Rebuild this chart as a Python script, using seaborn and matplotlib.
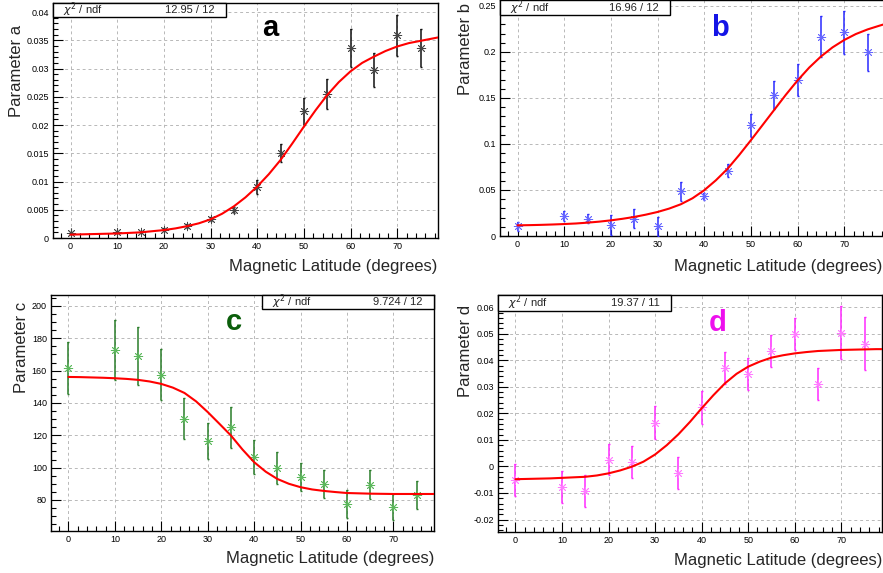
import matplotlib
matplotlib.use("Agg")
import matplotlib.pyplot as plt
import seaborn as sns
import pandas as pd
from matplotlib.patches import Rectangle
from matplotlib.ticker import MultipleLocator, FuncFormatter

# ---------------- data ----------------
lat = [0, 10, 15, 20, 25, 30, 35, 40, 45, 50, 55, 60, 65, 70, 75]

a_val = [0.0009, 0.0010, 0.0010, 0.0015, 0.0021, 0.0034, 0.0050, 0.0090, 0.0151, 0.0224, 0.0255, 0.0336, 0.0298, 0.0359, 0.0336]
a_err = [0.0002, 0.0002, 0.0002, 0.0002, 0.0003, 0.0004, 0.0005, 0.0012, 0.0016, 0.0024, 0.0027, 0.0034, 0.0030, 0.0036, 0.0034]

b_val = [0.0105, 0.0214, 0.0189, 0.0116, 0.0189, 0.0105, 0.0486, 0.0432, 0.0708, 0.1205, 0.1530, 0.1695, 0.2166, 0.2213, 0.1996]
b_err = [0.0050, 0.0055, 0.0050, 0.0110, 0.0105, 0.0100, 0.0105, 0.0040, 0.0070, 0.0125, 0.0155, 0.0170, 0.0225, 0.0230, 0.0200]

c_val = [161.7, 172.9, 168.9, 157.6, 130.3, 116.6, 124.9, 106.5, 99.7, 94.1, 89.9, 77.5, 89.3, 75.5, 83.1]
c_err = [16.0, 18.4, 18.0, 15.5, 12.6, 11.0, 12.6, 10.7, 10.0, 8.8, 8.8, 8.6, 9.0, 8.0, 8.7]

d_val = [-0.0050, -0.0077, -0.0092, 0.0026, 0.0016, 0.0165, -0.0026, 0.0223, 0.0371, 0.0348, 0.0434, 0.0499, 0.0312, 0.0504, 0.0462]
d_err = [0.0060, 0.0061, 0.0060, 0.0060, 0.0060, 0.0061, 0.0060, 0.0062, 0.0061, 0.0061, 0.0060, 0.0060, 0.0060, 0.0100, 0.0100]

fit_lat = [0, 2.5, 5, 7.5, 10, 12.5, 15, 17.5, 20, 22.5, 25, 27.5, 30, 32.5, 35, 37.5, 40,
           42.5, 45, 47.5, 50, 52.5, 55, 57.5, 60, 62.5, 65, 67.5, 70, 72.5, 75, 77.5, 78.75]
a_fit = [0.0006, 0.00065, 0.0007, 0.00075, 0.0008, 0.0009, 0.0010, 0.0012, 0.0014, 0.0017, 0.0021,
         0.0026, 0.0033, 0.0043, 0.0056, 0.0072, 0.0091, 0.0113, 0.0138, 0.0167, 0.0197, 0.0226,
         0.0253, 0.0276, 0.0295, 0.0310, 0.0321, 0.0331, 0.0339, 0.0345, 0.0349, 0.0353, 0.0355]
b_fit = [0.0116, 0.0118, 0.0121, 0.0125, 0.0130, 0.0136, 0.0145, 0.0156, 0.0170, 0.0187, 0.0207,
         0.0232, 0.0261, 0.0298, 0.0345, 0.0410, 0.0497, 0.0605, 0.0730, 0.0880, 0.1040, 0.1205,
         0.1370, 0.1535, 0.1690, 0.1830, 0.1950, 0.2050, 0.2130, 0.2195, 0.2245, 0.2285, 0.2304]
c_fit = [156.1, 156.0, 155.8, 155.6, 155.3, 154.9, 154.3, 153.3, 151.8, 149.5, 146.2, 141.0, 134.4,
         127.2, 119.9, 111.2, 103.4, 97.5, 93.0, 90.0, 87.9, 86.5, 85.6, 84.9, 84.3, 84.1, 83.9,
         83.8, 83.7, 83.7, 83.7, 83.7, 83.7]
d_fit = [-0.0048, -0.0047, -0.0046, -0.0045, -0.0043, -0.0041, -0.0039, -0.0034, -0.0026, -0.0015,
         -0.0001, 0.0018, 0.0045, 0.0080, 0.0121, 0.0168, 0.0219, 0.0268, 0.0313, 0.0349, 0.0376,
         0.0395, 0.0410, 0.0419, 0.0426, 0.0431, 0.0435, 0.0437, 0.0439, 0.0440, 0.0441, 0.0442, 0.0442]

chi2_text = ["12.95 / 12", "16.96 / 12", "9.724 / 12", "19.37 / 11"]
panel_letters = ["a", "b", "c", "d"]
y_titles = ["Parameter a", "Parameter b", "Parameter c", "Parameter d"]
x_title = "Magnetic Latitude (degrees)"

# ---------------- style ----------------
sns.set_style("white")
plt.rcParams["font.family"] = ["Liberation Sans", "DejaVu Sans"]

W, H = 883, 573
fig = plt.figure(figsize=(W / 100, H / 100), dpi=100)
fig.patch.set_facecolor("white")


def rect(l, t, r, b):
    return [l / W, 1 - b / H, (r - l) / W, (b - t) / H]


panels = [
    dict(val=a_val, err=a_err, fit=a_fit, rect=rect(53, 3, 438, 238), ylim=(0, 0.0416),
         major=0.005, minor=0.001, ecol="#111111", mcol="#444444", lcol="black",
         box=(0.0, 0.449, 0.940), letter_pos=(0.564, 0.895), ytitle=(17, 25), xtitle=(437, 267)),
    dict(val=b_val, err=b_err, fit=b_fit, rect=rect(500, 0, 885, 236), ylim=(0, 0.2565),
         major=0.05, minor=0.01, ecol="#2a2aff", mcol="#6666ff", lcol="#1414e6",
         box=(0.0, 0.442, 0.936), letter_pos=(0.571, 0.882), ytitle=(466, 3), xtitle=(882, 267)),
    dict(val=c_val, err=c_err, fit=c_fit, rect=rect(51, 295, 434, 531), ylim=(60.8, 206.8),
         major=20, minor=5, ecol="#2a7d2a", mcol="#5cb85c", lcol="#0b5e0b",
         box=(0.551, 1.0, 0.941), letter_pos=(0.478, 0.885), ytitle=(22, 302), xtitle=(434, 558)),
    dict(val=d_val, err=d_err, fit=d_fit, rect=rect(498, 295, 882, 532), ylim=(-0.0247, 0.0646),
         major=0.01, minor=0.002, ecol="#ff2aff", mcol="#ff7cff", lcol="#ee10ee",
         box=(0.0, 0.45, 0.932), letter_pos=(0.573, 0.882), ytitle=(466, 305), xtitle=(882, 560)),
]


def fmt(v, pos):
    if abs(v) < 1e-12:
        return "0"
    return "%g" % round(v, 6)


for i, p in enumerate(panels):
    ax = fig.add_axes(p["rect"])
    ax.set_facecolor("white")
    df = pd.DataFrame({"lat": lat, "val": p["val"], "err": p["err"]})
    fdf = pd.DataFrame({"lat": fit_lat, "fit": p["fit"]})

    ax.errorbar(df["lat"], df["val"], yerr=df["err"], fmt="none", ecolor=p["ecol"],
                elinewidth=1.1, capsize=1.0, capthick=1.0, zorder=3)
    sns.scatterplot(data=df, x="lat", y="val", ax=ax, marker=(8, 2, 0), s=38,
                    color=p["mcol"], edgecolor=p["mcol"], linewidth=0.6, zorder=4, legend=False)
    sns.lineplot(data=fdf, x="lat", y="fit", ax=ax, color="#ff0000", linewidth=1.5,
                 zorder=5, legend=False, sort=False)

    ax.set_xlim(-3.75, 78.75)
    ax.set_ylim(*p["ylim"])
    ax.set_xlabel("")
    ax.set_ylabel("")
    ax.xaxis.set_major_locator(MultipleLocator(10))
    ax.xaxis.set_minor_locator(MultipleLocator(2))
    ax.yaxis.set_major_locator(MultipleLocator(p["major"]))
    ax.yaxis.set_minor_locator(MultipleLocator(p["minor"]))
    ax.xaxis.set_major_formatter(FuncFormatter(fmt))
    ax.yaxis.set_major_formatter(FuncFormatter(fmt))
    ax.tick_params(axis="both", which="major", direction="in", length=7, width=0.8,
                   labelsize=6.5, colors="black", pad=3)
    ax.tick_params(axis="both", which="minor", direction="in", length=3.5, width=0.8,
                   colors="black")
    ax.tick_params(axis="both", which="both", bottom=True, left=True, top=False, right=False)
    ax.grid(True, which="major", color="#b8b8b8", linestyle=(0, (3, 3)), linewidth=0.7)
    ax.set_axisbelow(True)
    for s in ax.spines.values():
        s.set_color("black")
        s.set_linewidth(1.0)
        s.set_visible(True)

    # chi2 box
    x0, x1, yb = p["box"]
    ax.add_patch(Rectangle((x0, yb), x1 - x0, 1 - yb, transform=ax.transAxes,
                           facecolor="white", edgecolor="black", linewidth=1.0,
                           zorder=6, clip_on=False))
    ax.text(x0 + 0.025, (1 + yb) / 2, r"$\chi^{2}$ / ndf", transform=ax.transAxes,
            ha="left", va="center", fontsize=8, zorder=7)
    ax.text(x1 - 0.03, (1 + yb) / 2, chi2_text[i], transform=ax.transAxes,
            ha="right", va="center", fontsize=8, zorder=7)

    # panel letter
    ax.text(p["letter_pos"][0], p["letter_pos"][1], panel_letters[i], transform=ax.transAxes,
            ha="center", va="center", fontsize=21, fontweight="bold", color=p["lcol"], zorder=7)

    # titles
    fig.text(p["ytitle"][0] / W, 1 - p["ytitle"][1] / H, y_titles[i], rotation=90,
             ha="center", va="top", fontsize=12)
    fig.text(p["xtitle"][0] / W, 1 - p["xtitle"][1] / H, x_title,
             ha="right", va="center", fontsize=12)

fig.savefig("out.png", dpi=100, facecolor="white")
